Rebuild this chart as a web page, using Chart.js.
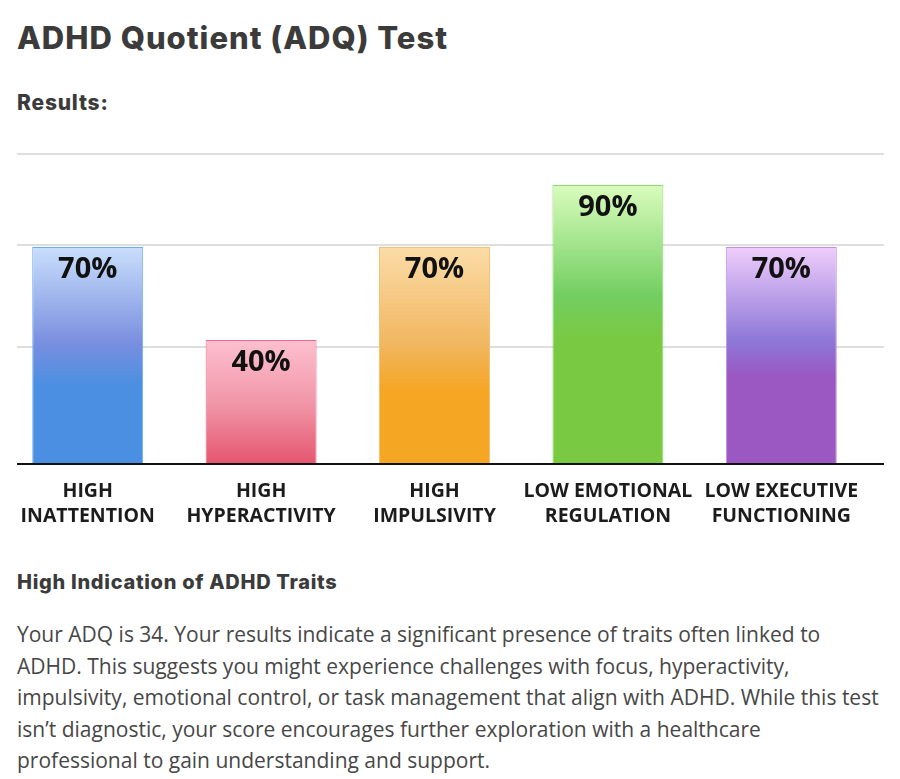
<!DOCTYPE html>
<html>
<head>
<meta charset="utf-8">
<title>ADHD Quotient (ADQ) Test</title>
<script src="https://cdn.jsdelivr.net/npm/chart.js@4.4.1/dist/chart.umd.min.js"></script>
<style>
    body {
        margin: 0;
        background: #fff;
        font-family: 'Open Sans', sans-serif;
    }
    .page {
        position: relative;
        width: 900px;
        height: 779px;
        overflow: hidden;
    }
    h1, h2, h3 {
        position: absolute;
        left: 17px;
        margin: 0;
        font-family: 'Inter', sans-serif;
        font-weight: 800;
        color: #3b3b3b;
        white-space: nowrap;
    }
    h1 { top: 18px; font-size: 31px; line-height: 40px; letter-spacing: 1px; }
    h2 { top: 88px; font-size: 21px; line-height: 30px; letter-spacing: 0.8px; }
    h3 { top: 567px; font-size: 20px; line-height: 30px; letter-spacing: 0.7px; }
    .chart-box {
        position: absolute;
        left: 0;
        top: 130px;
        width: 900px;
        height: 414px;
    }
    p {
        position: absolute;
        left: 17px;
        top: 619px;
        margin: 0;
        font-size: 21px;
        line-height: 31.6px;
        color: #474747;
        white-space: nowrap;
    }
</style>
</head>
<body>
<div class="page">
    <h1>ADHD Quotient (ADQ) Test</h1>
    <h2>Results:</h2>
    <div class="chart-box"><canvas id="adqChart"></canvas></div>
    <h3>High Indication of ADHD Traits</h3>
    <p>Your ADQ is 34. Your results indicate a significant presence of traits often linked to<br>
    ADHD. This suggests you might experience challenges with focus, hyperactivity,<br>
    impulsivity, emotional control, or task management that align with ADHD. While this test<br>
    isn’t diagnostic, your score encourages further exploration with a healthcare<br>
    professional to gain understanding and support.</p>
</div>

<script>
const categories = [
    ['HIGH', 'INATTENTION'],
    ['HIGH', 'HYPERACTIVITY'],
    ['HIGH', 'IMPULSIVITY'],
    ['LOW EMOTIONAL', 'REGULATION'],
    ['LOW EXECUTIVE', 'FUNCTIONING']
];
const scores = [70, 40, 70, 90, 70];
const gridValues = [37.7, 70.7, 100];

// gradient colours per bar: top, middle, base (with where mid/base start)
const barShades = [
    { top: '#c9dffc', mid: '#7a8fdf', base: '#4a8fe1', midAt: 0.44, baseAt: 0.64, border: '#6eabf2' },
    { top: '#fdc0cf', mid: '#f197a9', base: '#e5566f', midAt: 0.5, baseAt: 1, border: '#ea6a8b' },
    { top: '#fbdca7', mid: '#f1b660', base: '#f5a623', midAt: 0.45, baseAt: 0.66, border: '#f4c274' },
    { top: '#d9fcbd', mid: '#72ce60', base: '#7ac943', midAt: 0.4, baseAt: 0.55, border: '#8edb70' },
    { top: '#efcdfb', mid: '#8d78d8', base: '#9b57c2', midAt: 0.43, baseAt: 0.6, border: '#c68de2' }
];

function barGradient(context) {
    const chart = context.chart;
    const { ctx, chartArea, scales } = chart;
    const shade = barShades[context.dataIndex];
    if (!chartArea) return shade.base;
    const top = scales.y.getPixelForValue(scores[context.dataIndex]);
    const bottom = scales.y.getPixelForValue(0);
    const g = ctx.createLinearGradient(0, top, 0, bottom);
    g.addColorStop(0, shade.top);
    g.addColorStop(shade.midAt, shade.mid);
    g.addColorStop(shade.baseAt, shade.base);
    g.addColorStop(1, shade.base);
    return g;
}

// grid lines sit 16px to the right of the bar area in the original
const gridLines = {
    id: 'gridLines',
    beforeDatasetsDraw(chart) {
        const { ctx, chartArea, scales } = chart;
        ctx.save();
        ctx.strokeStyle = '#dedede';
        ctx.lineWidth = 2;
        gridValues.forEach(v => {
            const y = Math.round(scales.y.getPixelForValue(v));
            ctx.beginPath();
            ctx.moveTo(chartArea.left + 16, y);
            ctx.lineTo(chartArea.right + 16, y);
            ctx.stroke();
        });
        ctx.restore();
    },
    afterDatasetsDraw(chart) {
        const { ctx, chartArea, scales } = chart;
        const y = scales.y.getPixelForValue(0);
        ctx.save();
        ctx.strokeStyle = '#111';
        ctx.lineWidth = 2;
        ctx.beginPath();
        ctx.moveTo(chartArea.left + 16, y);
        ctx.lineTo(chartArea.right + 16, y);
        ctx.stroke();
        ctx.restore();
    }
};

const valueLabels = {
    id: 'valueLabels',
    afterDatasetsDraw(chart) {
        const { ctx } = chart;
        const meta = chart.getDatasetMeta(0);
        ctx.save();
        ctx.font = 'bold 29px "Open Sans"';
        ctx.fillStyle = '#111';
        ctx.textAlign = 'center';
        ctx.textBaseline = 'alphabetic';
        meta.data.forEach((bar, i) => {
            ctx.fillText(scores[i] + '%', bar.x, bar.y + 31);
        });
        ctx.restore();
    }
};

new Chart(document.getElementById('adqChart'), {
    type: 'bar',
    data: {
        labels: categories,
        datasets: [{
            data: scores,
            backgroundColor: barGradient,
            borderColor: barShades.map(s => s.border),
            borderWidth: 1,
            borderSkipped: 'bottom',
            categoryPercentage: 0.8,
            barPercentage: 0.8
        }]
    },
    options: {
        responsive: true,
        maintainAspectRatio: false,
        animation: false,
        layout: {
            padding: { left: 1, right: 32, top: 24, bottom: 0 }
        },
        plugins: {
            legend: { display: false },
            tooltip: { enabled: false }
        },
        scales: {
            x: {
                grid: { display: false, drawTicks: false },
                border: { display: false },
                ticks: {
                    padding: 15,
                    color: '#1c1c1c',
                    font: { family: 'Open Sans', size: 19.5, weight: 'bold', lineHeight: 1.28 },
                    maxRotation: 0,
                    autoSkip: false
                }
            },
            y: {
                display: false,
                min: 0,
                max: 100
            }
        }
    },
    plugins: [gridLines, valueLabels]
});
</script>
</body>
</html>
